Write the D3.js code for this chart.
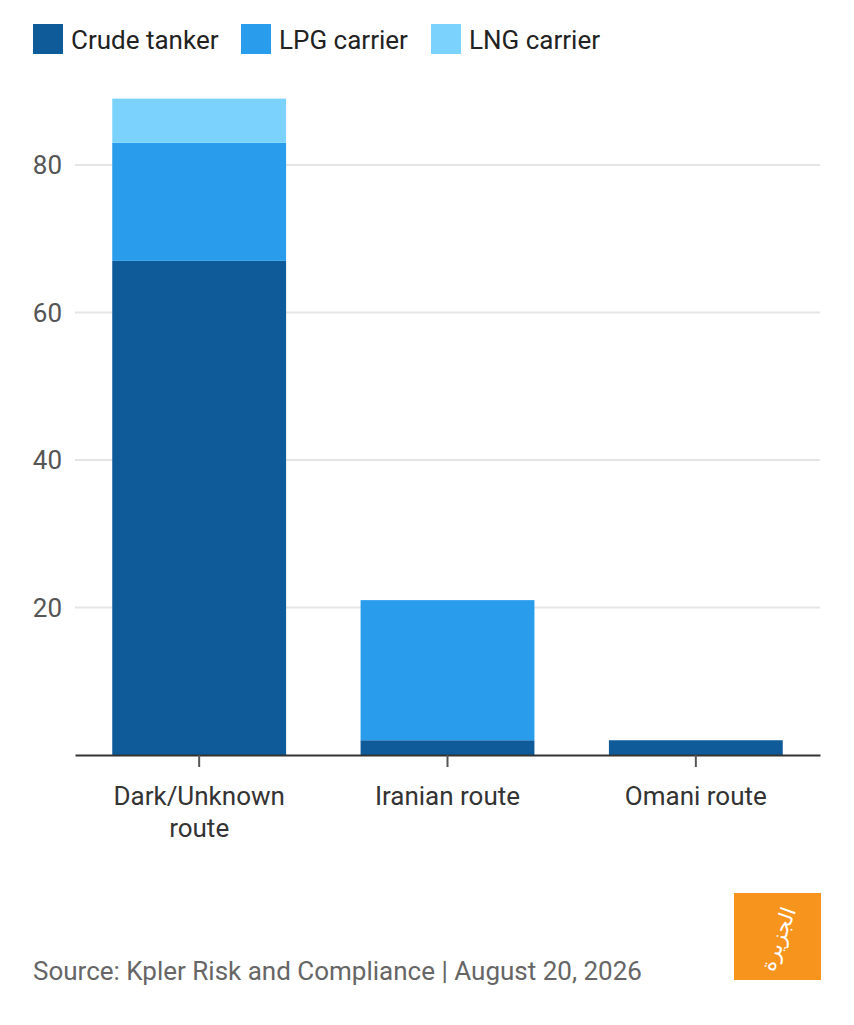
<!DOCTYPE html>
<html>
<head>
<meta charset="utf-8">
<script src="https://cdn.jsdelivr.net/npm/d3@7"></script>
<style>
  html, body { margin: 0; padding: 0; background: #fff; }
  svg text { font-family: Roboto, "Noto Sans", sans-serif; }
</style>
</head>
<body>
<div id="chart"></div>
<script>
// data
const routes = ['Dark/Unknown route', 'Iranian route', 'Omani route'];
const routeLines = [['Dark/Unknown', 'route'], ['Iranian route'], ['Omani route']];
const seriesNames = ['Crude tanker', 'LPG carrier', 'LNG carrier'];
const crudeTanker = [67, 2, 2];
const lpgCarrier = [16, 19, 0];
const lngCarrier = [6, 0, 0];
const yTicks = [20, 40, 60, 80];
const sourceText = 'Source: Kpler Risk and Compliance | August 20, 2026';

const colors = ['#0f5b9a', '#2a9cec', '#7bd3fd'];

const width = 854, height = 1025;
const svg = d3.select('#chart').append('svg')
    .attr('width', width)
    .attr('height', height);

// table for the stack layout
const rows = routes.map((r, i) => ({
    route: r,
    'Crude tanker': crudeTanker[i],
    'LPG carrier': lpgCarrier[i],
    'LNG carrier': lngCarrier[i]
}));
const stacked = d3.stack().keys(seriesNames)(rows);

const x = d3.scaleBand()
    .domain(routes)
    .range([75, 820])
    .paddingInner(0.3)
    .paddingOuter(0.15);

const y = d3.scaleLinear()
    .domain([0, 80])
    .range([755, 165]);

// gridlines
svg.append('g')
    .selectAll('line')
    .data(yTicks)
    .join('line')
    .attr('x1', 75)
    .attr('x2', 820)
    .attr('y1', d => y(d))
    .attr('y2', d => y(d))
    .attr('stroke', '#e5e5e5')
    .attr('stroke-width', 2);

// y tick labels
svg.append('g')
    .selectAll('text')
    .data(yTicks)
    .join('text')
    .attr('x', 62)
    .attr('y', d => y(d))
    .attr('dy', '0.35em')
    .attr('text-anchor', 'end')
    .attr('fill', '#555')
    .attr('font-size', 26)
    .text(d => d);

// bars
svg.append('g')
    .selectAll('g')
    .data(stacked)
    .join('g')
    .attr('fill', (d, i) => colors[i])
    .selectAll('rect')
    .data(d => d)
    .join('rect')
    .attr('x', d => x(d.data.route))
    .attr('width', x.bandwidth())
    .attr('y', d => y(d[1]))
    .attr('height', d => y(d[0]) - y(d[1]));

// x axis
const xAxis = svg.append('g')
    .attr('transform', `translate(0,${y(0)})`)
    .call(d3.axisBottom(x).tickSize(12).tickSizeOuter(0).tickFormat(''));
xAxis.select('.domain').attr('stroke', '#333').attr('stroke-width', 2);
xAxis.selectAll('.tick line').attr('stroke', '#555').attr('stroke-width', 2);

// category labels (wrapped)
svg.append('g')
    .selectAll('text')
    .data(routes)
    .join('text')
    .attr('x', d => x(d) + x.bandwidth() / 2)
    .attr('y', 805)
    .attr('text-anchor', 'middle')
    .attr('fill', '#333')
    .attr('font-size', 26)
    .each(function (d, i) {
        d3.select(this).selectAll('tspan')
            .data(routeLines[i])
            .join('tspan')
            .attr('x', x(d) + x.bandwidth() / 2)
            .attr('dy', (t, j) => j === 0 ? 0 : 32)
            .text(t => t);
    });

// legend
const legend = svg.append('g');
const legendX = [33, 241, 431];
seriesNames.forEach((name, i) => {
    legend.append('rect')
        .attr('x', legendX[i])
        .attr('y', 24)
        .attr('width', 30)
        .attr('height', 30)
        .attr('fill', colors[i]);
    legend.append('text')
        .attr('x', legendX[i] + 38)
        .attr('y', 40)
        .attr('dy', '0.35em')
        .attr('font-size', 26)
        .attr('fill', '#222')
        .text(name);
});

// source
svg.append('text')
    .attr('x', 33)
    .attr('y', 980)
    .attr('font-size', 26)
    .attr('fill', '#666')
    .text(sourceText);

// logo
const logo = svg.append('g').attr('transform', 'translate(734,893)');
logo.append('rect')
    .attr('width', 87)
    .attr('height', 87)
    .attr('fill', '#f7941d');
logo.append('text')
    .attr('transform', 'translate(44,46) rotate(-70)')
    .attr('text-anchor', 'middle')
    .attr('dy', '0.35em')
    .attr('fill', '#fff')
    .attr('font-size', 21)
    .style('font-family', '"DejaVu Sans", sans-serif')
    .text('الجزيرة');
</script>
</body>
</html>
